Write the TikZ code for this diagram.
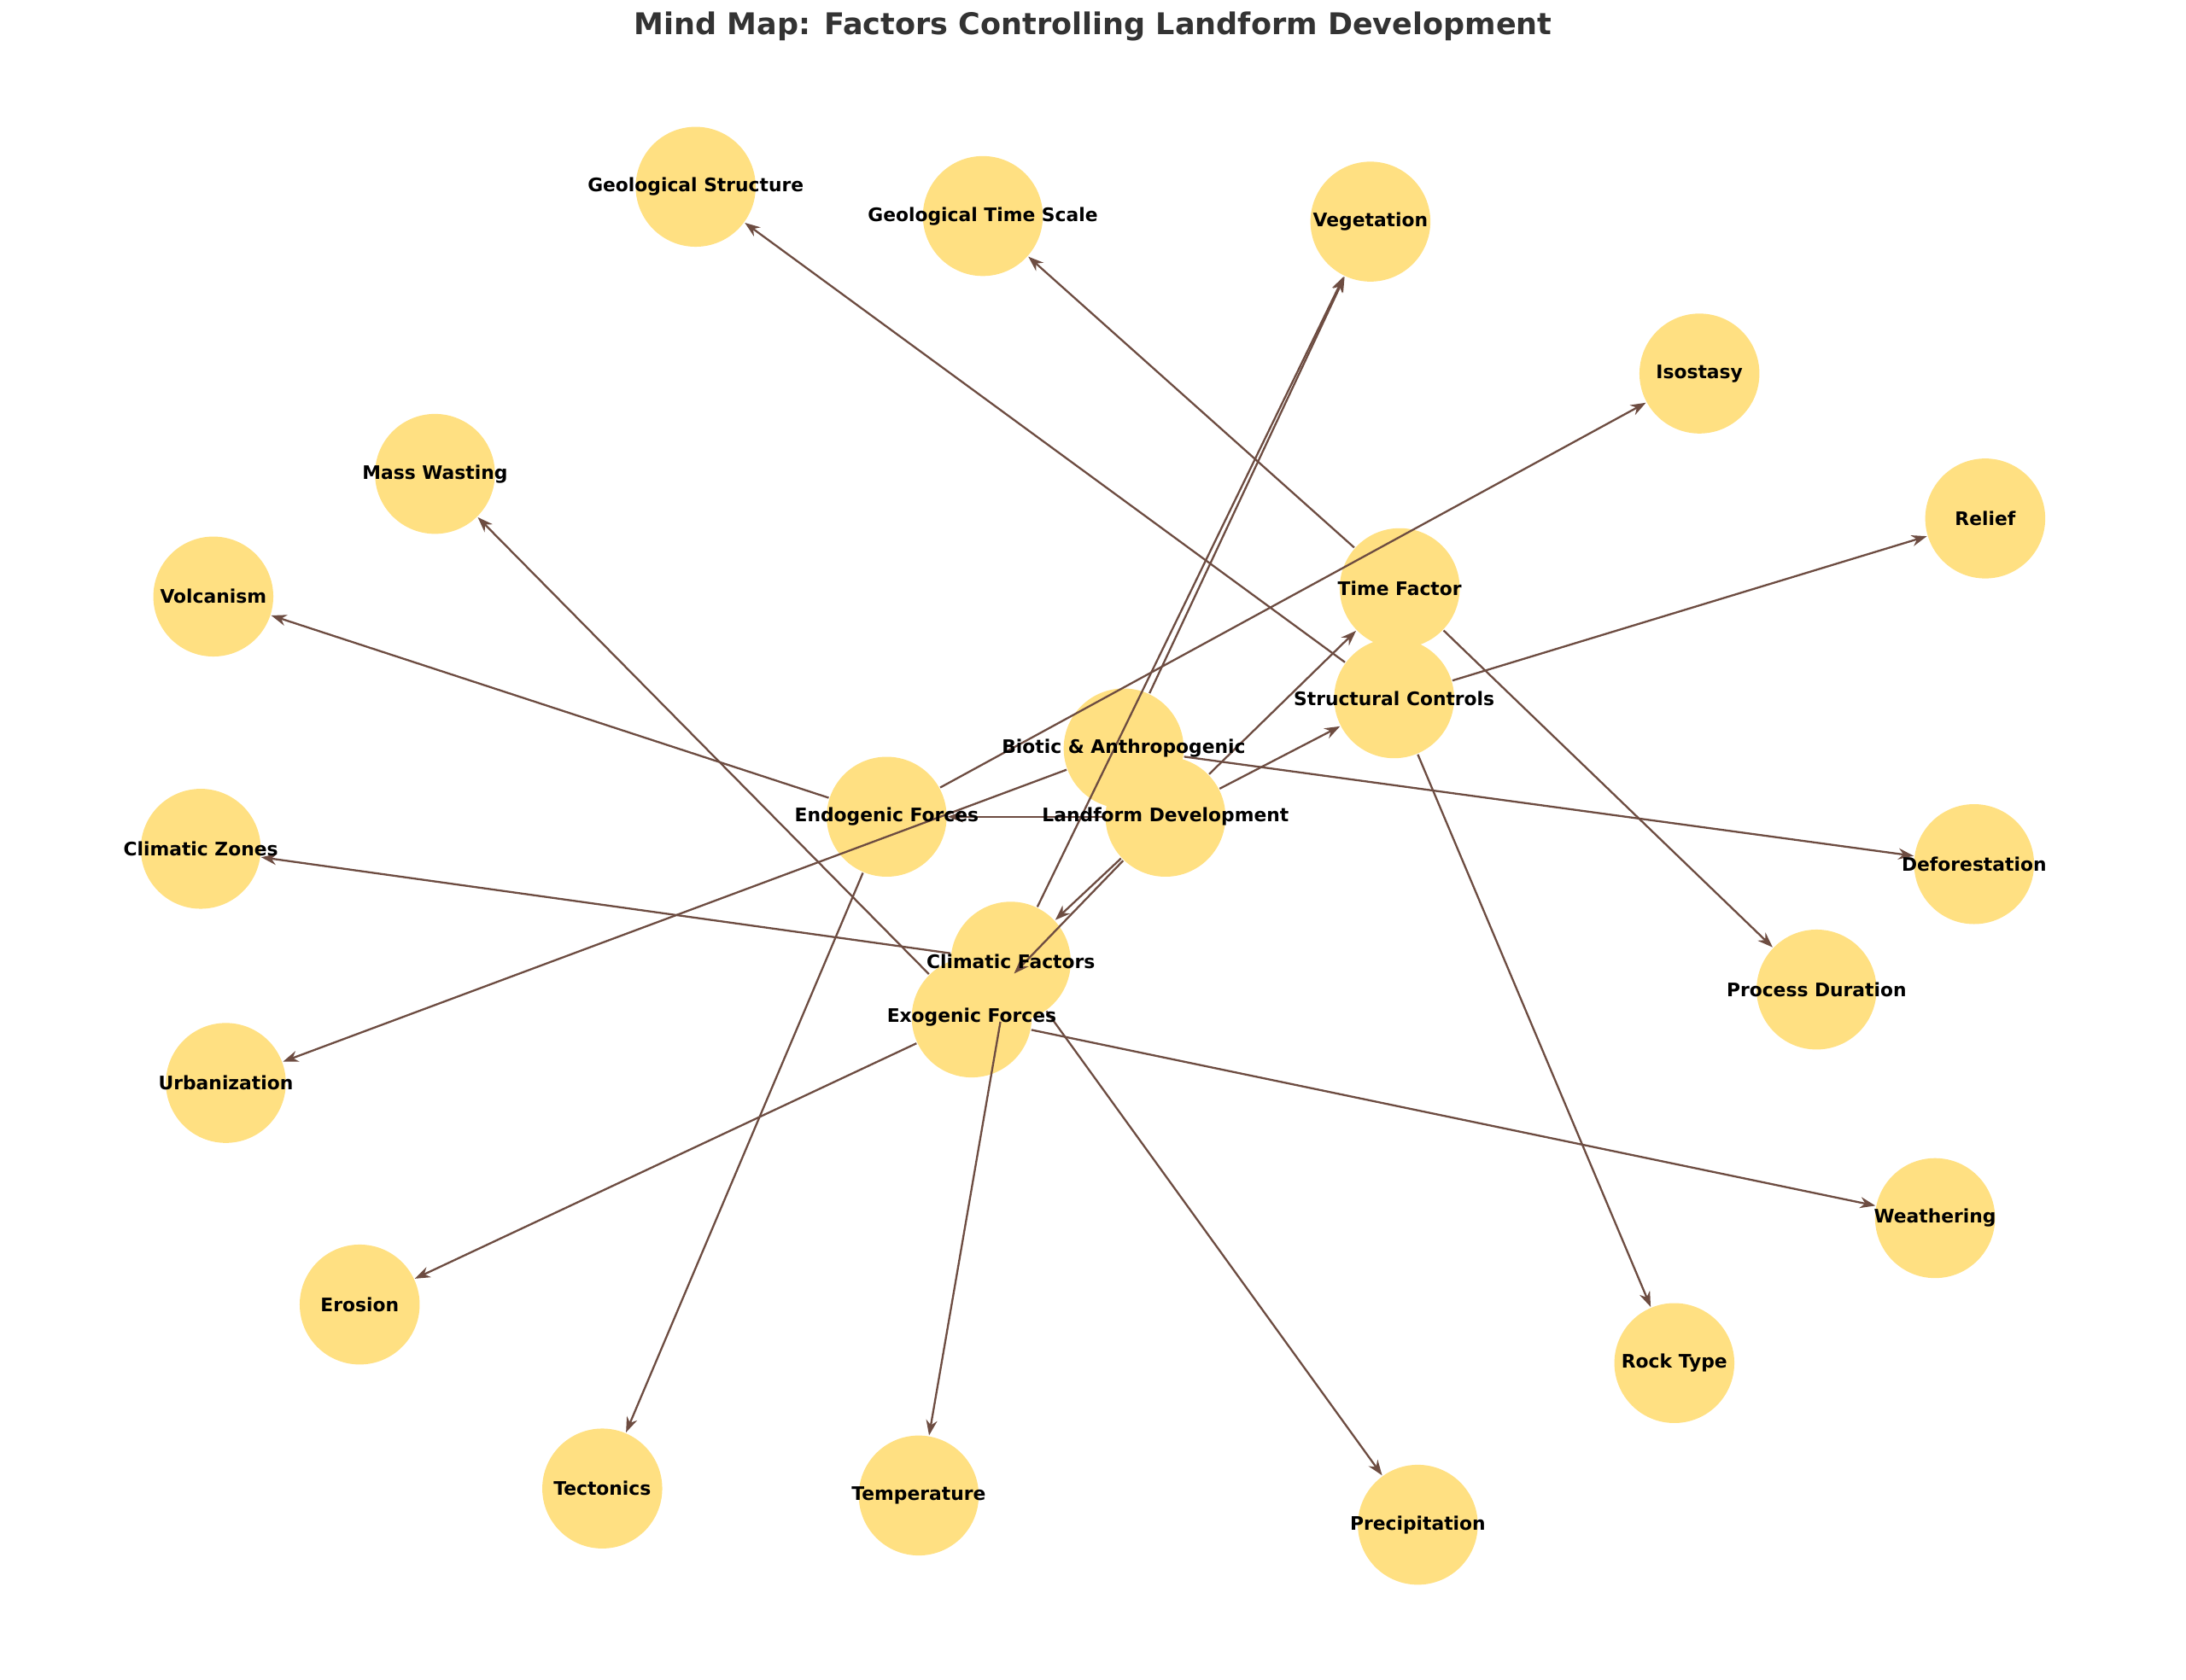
\documentclass[tikz,border=0pt]{standalone}
\usepackage{fontspec}
\setmainfont{DejaVu Sans}
\usetikzlibrary{arrows.meta}
\definecolor{nodefill}{HTML}{FFE082}
\definecolor{edgecol}{HTML}{6D4C41}
\tikzset{
    topic/.style={
        circle,
        fill=nodefill,
        minimum size=0.86cm,
        inner sep=0pt
    },
    topiclabel/.style={
        font=\fontsize{3.8}{5}\selectfont\bfseries,
        inner sep=0pt
    },
    link/.style={
        draw=edgecol,
        line width=0.4pt,
        -{Stealth[length=1.1mm,width=0.8mm]}
    }
}
\begin{document}
\begin{tikzpicture}[x=0.01cm,y=-0.01cm]
\useasboundingbox (0,0) rectangle (1568,1205);

% Title
\node[font=\fontsize{6.1}{8}\selectfont\bfseries, text=black!80] (title) at (784,19) {Mind Map: Factors Controlling Landform Development};

% Nodes
\foreach \name/\x/\y in {
    land/836/586, endo/636/586, exo/697/730, clim/725/690,
    bio/806/537, struct/1000/501, time/1004/422,
    geostr/499/134, geotime/705/155, veg/983/159,
    iso/1219/268, relief/1424/372, mass/312/340,
    volc/153/428, zones/144/609, urban/162/777,
    defor/1416/620, dur/1303/710, weath/1388/874,
    eros/258/936, rock/1201/978, tect/432/1068,
    temp/659/1073, precip/1017/1094}
{
    \node[topic] (\name) at (\x,\y) {};
}

% Connections
\foreach \a/\b in {land/endo, land/exo, land/clim, land/struct, land/time,
    endo/volc, endo/tect, endo/iso,
    exo/weath, exo/eros, exo/mass,
    clim/zones, clim/temp, clim/precip, clim/veg,
    bio/veg, bio/defor, bio/urban,
    struct/geostr, struct/rock, struct/relief,
    time/geotime, time/dur}
{
    \draw[link] (\a) -- (\b);
}

% Labels
\foreach \name/\txt in {
    land/Landform Development, endo/Endogenic Forces, exo/Exogenic Forces,
    clim/Climatic Factors, bio/Biotic \& Anthropogenic, struct/Structural Controls,
    time/Time Factor, geostr/Geological Structure, geotime/Geological Time Scale,
    veg/Vegetation, iso/Isostasy, relief/Relief, mass/Mass Wasting,
    volc/Volcanism, zones/Climatic Zones, urban/Urbanization, defor/Deforestation,
    dur/Process Duration, weath/Weathering, eros/Erosion, rock/Rock Type,
    tect/Tectonics, temp/Temperature, precip/Precipitation}
{
    \node[topiclabel] (\name-txt) at (\name) {\txt};
}

\end{tikzpicture}
\end{document}
